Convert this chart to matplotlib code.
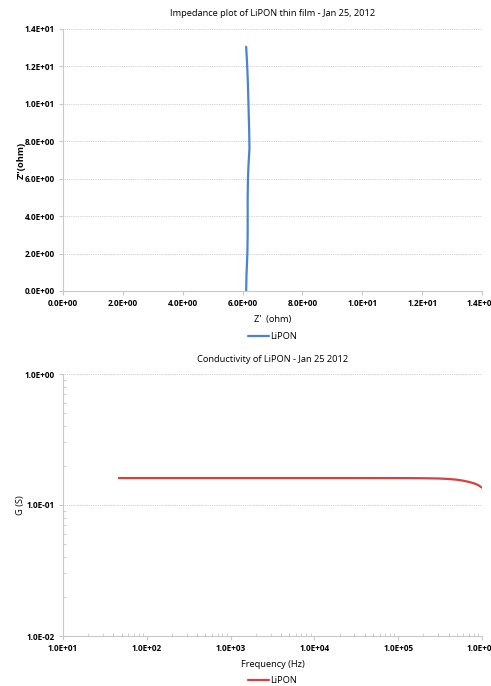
import matplotlib
matplotlib.use("Agg")
import matplotlib.pyplot as plt
from matplotlib.ticker import FixedLocator, FuncFormatter, LogLocator, NullFormatter

# Nyquist data: Z' and Z'' in ohm
z_real = [6.12, 6.13, 6.15, 6.16, 6.17, 6.17, 6.17, 6.18, 6.20, 6.23, 6.22, 6.20, 6.18, 6.15, 6.12]
z_imag = [0.0, 0.8, 1.6, 2.0, 3.0, 4.0, 5.0, 6.0, 6.8, 7.6, 8.6, 9.8, 11.0, 12.2, 13.05]

# Conductance vs frequency
freq_hz = [46.4, 100, 300, 1000, 3000, 10000, 30000, 100000, 200000, 300000,
           400000, 500000, 600000, 700000, 800000, 900000, 1000000]
cond_s = [0.1606, 0.1606, 0.1606, 0.1606, 0.1606, 0.1606, 0.1606, 0.1605, 0.1601,
          0.1594, 0.1580, 0.1560, 0.1532, 0.1500, 0.1464, 0.1420, 0.1355]

x_ticks_top = [0, 2, 4, 6, 8, 10, 12, 14]
y_ticks_top = [0, 2, 4, 6, 8, 10, 12, 14]

series_name = "LiPON"
blue = "#4a84cf"
red = "#d8403e"
axis_grey = "#c8c8c8"
grid_grey = "#c0c0c0"

plt.rcParams["font.family"] = ["Open Sans", "DejaVu Sans"]

W, H = 491, 686
fig = plt.figure(figsize=(W / 100, H / 100), dpi=100)

TXT = 6.7
TICK = 5.9


def sci(v, pos=None):
    return f"{v:.1E}"


def frame(ax):
    for side in ("top", "right"):
        ax.spines[side].set_visible(False)
    for side in ("left", "bottom"):
        ax.spines[side].set_color(axis_grey)
        ax.spines[side].set_linewidth(0.8)
    ax.tick_params(which="major", length=3, color=axis_grey, width=0.8,
                   labelsize=TICK, pad=3)
    ax.yaxis.grid(True, which="major", linestyle=(0, (1, 1.2)), color=grid_grey, linewidth=0.6)
    ax.set_axisbelow(True)


# ---- Impedance plot ----
ax1 = fig.add_axes([63 / W, 1 - 291 / H, 419 / W, 262 / H])
ax1.plot(z_real, z_imag, color=blue, linewidth=1.6, solid_capstyle="round")
ax1.set_xlim(0, 14)
ax1.set_ylim(0, 14)
ax1.xaxis.set_major_locator(FixedLocator(x_ticks_top))
ax1.yaxis.set_major_locator(FixedLocator(y_ticks_top))
ax1.xaxis.set_major_formatter(FuncFormatter(sci))
ax1.yaxis.set_major_formatter(FuncFormatter(sci))
frame(ax1)
ax1.set_title("Impedance plot of LiPON thin film - Jan 25, 2012", fontsize=TXT, pad=9)
ax1.set_xlabel("Z'  (ohm)", fontsize=TXT, labelpad=5)
ax1.set_ylabel("Z\"(ohm)", fontsize=TXT, fontweight="bold", labelpad=-1)
ax1.legend([series_name], loc="upper center", bbox_to_anchor=(0.5, -0.125),
           frameon=False, fontsize=TXT, handlelength=2.2, handletextpad=0.1)

# ---- Conductivity plot ----
ax2 = fig.add_axes([63 / W, 1 - 636 / H, 419 / W, 262 / H])
ax2.plot(freq_hz, cond_s, color=red, linewidth=1.6, solid_capstyle="round")
ax2.set_xscale("log")
ax2.set_yscale("log")
ax2.set_xlim(10, 1e6)
ax2.set_ylim(1e-2, 1)
ax2.xaxis.set_major_locator(LogLocator(base=10, numticks=10))
ax2.yaxis.set_major_locator(LogLocator(base=10, numticks=10))
ax2.xaxis.set_minor_locator(LogLocator(base=10, subs=range(2, 10), numticks=20))
ax2.yaxis.set_minor_locator(LogLocator(base=10, subs=range(2, 10), numticks=20))
ax2.xaxis.set_major_formatter(FuncFormatter(sci))
ax2.yaxis.set_major_formatter(FuncFormatter(sci))
ax2.xaxis.set_minor_formatter(NullFormatter())
ax2.yaxis.set_minor_formatter(NullFormatter())
frame(ax2)
ax2.tick_params(which="minor", direction="in", length=2, color=axis_grey, width=0.6)
ax2.set_title("Conductivity of LiPON - Jan 25 2012", fontsize=TXT, pad=9)
ax2.set_xlabel("Frequency (Hz)", fontsize=TXT, labelpad=5)
ax2.set_ylabel("G (S)", fontsize=TXT, labelpad=0)
ax2.legend([series_name], loc="upper center", bbox_to_anchor=(0.5, -0.12),
           frameon=False, fontsize=TXT, handlelength=2.2, handletextpad=0.1)

for ax in (ax1, ax2):
    for lab in ax.get_xticklabels() + ax.get_yticklabels():
        lab.set_fontweight("bold")
        lab.set_clip_on(False)

fig.savefig("out.png", dpi=100, facecolor="white")
